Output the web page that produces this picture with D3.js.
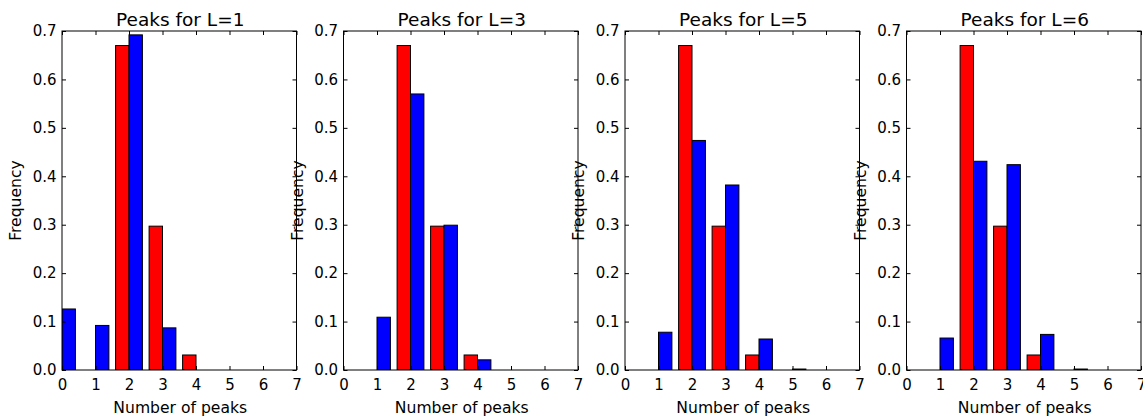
<!DOCTYPE html>
<html>
<head>
<meta charset="utf-8">
<script src="https://cdn.jsdelivr.net/npm/d3@7"></script>
<style>
    body { margin: 0; background: #fff; }
    text { font-family: 'DejaVu Sans', sans-serif; }
</style>
</head>
<body>
<div id="chart"></div>
<script>
    'use strict';

    // данные
    var panelTitles = ['Peaks for L=1', 'Peaks for L=3', 'Peaks for L=5', 'Peaks for L=6'];
    var peakCounts = [0, 1, 2, 3, 4, 5, 6];
    var redFreq = [0, 0, 0.670, 0.297, 0.031, 0, 0];
    var blueFreqL1 = [0.126, 0.092, 0.692, 0.087, 0, 0, 0];
    var blueFreqL3 = [0, 0.109, 0.570, 0.299, 0.021, 0, 0];
    var blueFreqL5 = [0, 0.078, 0.474, 0.382, 0.064, 0.002, 0];
    var blueFreqL6 = [0, 0.066, 0.431, 0.424, 0.0735, 0.002, 0];
    var xTicks = [0, 1, 2, 3, 4, 5, 6, 7];
    var yTicks = [0, 0.1, 0.2, 0.3, 0.4, 0.5, 0.6, 0.7];

    var blueSeries = [blueFreqL1, blueFreqL3, blueFreqL5, blueFreqL6];

    var W = 1143, H = 416;
    var panelLeft = 62, panelStep = 281.5, panelW = 234.5;
    var panelTop = 31, panelH = 339;
    var barW = 0.4;

    var svg = d3.select('#chart')
        .append('svg')
        .attr('width', W)
        .attr('height', H);

    var x = d3.scaleLinear().domain([0, 7]).range([0, panelW]);
    var y = d3.scaleLinear().domain([0, 0.7]).range([panelH, 0]);

    function drawPanel(i) {
        var g = svg.append('g')
            .attr('transform', 'translate(' + (panelLeft + i * panelStep) + ',' + panelTop + ')');

        g.append('clipPath')
            .attr('id', 'clip' + i)
            .append('rect')
            .attr('width', panelW)
            .attr('height', panelH);

        var bars = g.append('g').attr('clip-path', 'url(#clip' + i + ')');

        function addBars(values, offset, color) {
            bars.selectAll(null)
                .data(peakCounts)
                .enter()
                .append('rect')
                .attr('x', function (k) { return x(k + offset); })
                .attr('y', function (k, j) { return y(values[j]); })
                .attr('width', x(barW) - x(0))
                .attr('height', function (k, j) { return y(0) - y(values[j]); })
                .attr('fill', color)
                .attr('stroke', 'black')
                .attr('stroke-width', 1);
        }
        addBars(redFreq, -barW, '#ff0000');
        addBars(blueSeries[i], 0, '#0000ff');

        // оси: засечки внутрь, как в matplotlib classic
        var axisStyle = function (sel) {
            sel.select('.domain').remove();
            sel.selectAll('line').attr('stroke', 'black');
            sel.selectAll('text')
                .attr('font-family', "'DejaVu Sans', sans-serif")
                .attr('font-size', 15)
                .attr('fill', '#000');
        };

        g.append('g')
            .attr('transform', 'translate(0,' + panelH + ')')
            .call(d3.axisBottom(x).tickValues(xTicks).tickFormat(d3.format('d'))
                .tickSizeInner(-4).tickSizeOuter(0).tickPadding(9))
            .call(axisStyle);
        g.append('g')
            .call(d3.axisTop(x).tickValues(xTicks).tickFormat('')
                .tickSizeInner(-4).tickSizeOuter(0))
            .call(axisStyle);
        g.append('g')
            .call(d3.axisLeft(y).tickValues(yTicks).tickFormat(d3.format('.1f'))
                .tickSizeInner(-4).tickSizeOuter(0).tickPadding(5.5))
            .call(axisStyle);
        g.append('g')
            .attr('transform', 'translate(' + panelW + ',0)')
            .call(d3.axisRight(y).tickValues(yTicks).tickFormat('')
                .tickSizeInner(-4).tickSizeOuter(0))
            .call(axisStyle);

        g.append('rect')
            .attr('x', 0)
            .attr('y', 0)
            .attr('width', panelW)
            .attr('height', panelH)
            .attr('fill', 'none')
            .attr('stroke', 'black')
            .attr('stroke-width', 1);

        g.append('text')
            .attr('x', panelW / 2 + 1)
            .attr('y', -5)
            .attr('text-anchor', 'middle')
            .attr('font-size', 18.5)
            .text(panelTitles[i]);

        g.append('text')
            .attr('x', panelW / 2 + 1)
            .attr('y', panelH + 43)
            .attr('text-anchor', 'middle')
            .attr('font-size', 15.6)
            .text('Number of peaks');

        g.append('text')
            .attr('transform', 'translate(-41,' + (panelH / 2) + ') rotate(-90)')
            .attr('text-anchor', 'middle')
            .attr('font-size', 15.6)
            .text('Frequency');
    }

    for (var i = 0; i < panelTitles.length; i++) {
        drawPanel(i);
    }
</script>
</body>
</html>
